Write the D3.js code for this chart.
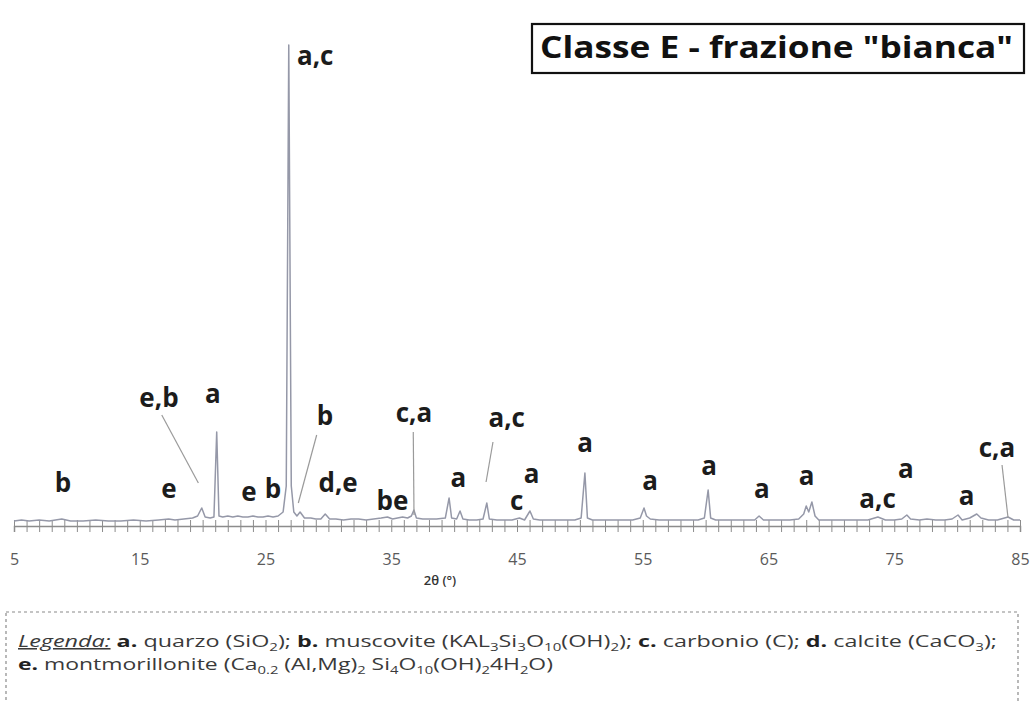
<!DOCTYPE html>
<html>
<head>
<meta charset="utf-8">
<script src="https://cdn.jsdelivr.net/npm/d3@7"></script>
<style>
  html, body { margin: 0; padding: 0; background: #ffffff; }
  svg { display: block; }
</style>
</head>
<body>
<svg id="chart" width="1032" height="702"></svg>
<script>
// ---- DATA ----
const twoTheta = [5.0,5.6,6.2,7.0,7.8,8.8,9.5,10.5,11.5,12.5,13.5,14.5,15.5,16.5,17.3,17.8,18.5,19.2,19.6,19.93,20.2,20.6,20.9,21.12,21.3,21.6,22.0,22.4,22.8,23.2,23.6,24.0,24.4,24.8,25.2,25.6,26.0,26.4,26.65,26.85,27.05,27.25,27.5,27.75,28.1,28.6,29.0,29.4,29.75,30.1,30.6,31.2,31.8,32.4,33.0,33.6,34.2,34.7,35.1,35.5,35.9,36.3,36.6,36.8,37.0,37.5,38.0,38.6,39.3,39.6,39.8,40.2,40.47,40.7,41.2,41.8,42.3,42.6,42.8,43.4,44.0,44.6,45.2,45.6,46.03,46.3,46.8,47.5,48.2,48.9,49.6,50.1,50.4,50.6,51.0,51.8,52.6,53.4,54.2,54.8,55.1,55.3,55.6,56.3,57.0,57.8,58.6,59.4,59.9,60.2,60.4,60.8,61.5,62.3,63.1,63.9,64.25,64.6,65.3,66.0,66.7,67.4,67.8,68.0,68.2,68.45,68.7,69.0,69.7,70.5,71.3,72.1,72.9,73.7,74.3,75.0,75.6,76.0,76.3,77.0,77.6,78.3,79.0,79.6,80.07,80.4,81.0,81.56,81.9,82.5,83.2,84.05,84.5,85.0];
const intensity = [5,6,5,6,5,7,5,5,6,5,5,6,5,6,7,6,7,8,10,18,9,8,9,94,10,9,10,9,10,9,9,10,9,9,10,9,10,14,40,481,40,14,10,14,8,8,7,7,12,7,7,6,7,7,6,7,8,9,7,8,9,8,10,16,8,7,7,7,8,28,8,7,15,7,6,6,7,23,7,6,6,6,8,6,15,7,6,6,6,6,6,8,53,8,6,6,6,6,6,8,18,10,7,6,6,6,6,6,8,36,8,6,6,6,6,6,10,6,6,6,6,7,12,20,14,24,10,6,6,6,6,6,6,9,6,6,7,11,7,6,7,6,6,7,11,6,8,12,8,6,6,9,6,6];

const majorTicks = [5,15,25,35,45,55,65,75,85];
const axisTitle = "2θ (°)";
const chartTitle = 'Classe E - frazione "bianca"';

// peak labels: text, 2θ position, intensity position
const labelText = ["a,c","e,b","a","b","c,a","a,c","a","b","e","e","b","d,e","be","a","c","a","a","a","a","a","a,c","a","a","c,a"];
const labelTheta = [27.5,16.53,20.81,29.73,36.81,44.18,50.41,8.9,17.33,23.69,25.6,30.77,35.1,40.33,44.98,46.17,55.58,60.27,64.48,68.04,73.67,75.93,80.76,83.17];
const labelInt = [461,119,123,101,104,99,74,34,28,25,28,34,16,39,16,43,36,51,28,41,18,48,21,69];

// leader lines from label to peak: [theta1, int1, theta2, int2]
const leaderFrom = [[16.75,111],[29.07,91],[36.75,94],[43.09,84],[83.57,61]];
const leaderTo   = [[19.66,43],[27.61,23],[36.81,11],[42.54,44],[84.05,8]];

// ---- DRAW ----
const svg = d3.select("#chart");
const x = d3.scaleLinear().domain([5, 85]).range([14, 1020]);
const y = d3.scaleLinear().domain([0, 500]).range([526, 26]);

// axis with crossing minor ticks every 1°
const minor = d3.range(5, 86, 1);
const gAx = svg.append("g").attr("transform", `translate(0,${y(0)})`)
  .call(d3.axisBottom(x).tickValues(minor).tickSize(6).tickFormat(""));
gAx.select(".domain").attr("stroke", "#8c8c8c").attr("stroke-width", 1.5);
gAx.selectAll(".tick line").attr("y1", -6).attr("y2", 6).attr("stroke", "#8c8c8c").attr("stroke-width", 1);

const gLab = svg.append("g").attr("transform", `translate(0,${y(0)})`)
  .call(d3.axisBottom(x).tickValues(majorTicks).tickSize(0).tickPadding(28).tickFormat(d3.format("d")));
gLab.select(".domain").remove();
gLab.selectAll("text").attr("font-family", "Open Sans, sans-serif").attr("font-size", 16)
  .attr("fill", "#5a5a5a");

svg.append("text").attr("x", 440).attr("y", 585).attr("text-anchor", "middle")
  .attr("font-family", "Open Sans, sans-serif").attr("font-size", 13).attr("font-weight", 600)
  .attr("fill", "#333").text(axisTitle);

// spectrum line
const pts = twoTheta.map((t, i) => [t, intensity[i]]);
const line = d3.line().x(d => x(d[0])).y(d => y(d[1]));
svg.append("path").datum(pts).attr("d", line).attr("fill", "none")
  .attr("stroke", "#9598a8").attr("stroke-width", 1.5).attr("stroke-linejoin", "round");

// leader lines
leaderFrom.forEach((f, i) => {
  const t = leaderTo[i];
  svg.append("line").attr("x1", x(f[0])).attr("y1", y(f[1]))
    .attr("x2", x(t[0])).attr("y2", y(t[1]))
    .attr("stroke", "#9a9a9a").attr("stroke-width", 1.2);
});

// peak labels
svg.append("g").selectAll("text").data(labelText).join("text")
  .attr("x", (d, i) => x(labelTheta[i])).attr("y", (d, i) => y(labelInt[i]))
  .attr("text-anchor", (d, i) => i === 0 ? "start" : "middle")
  .attr("font-family", "Open Sans, sans-serif").attr("font-weight", 700)
  .attr("font-size", 26).attr("fill", "#1c1c1c").text(d => d);

// title box
svg.append("rect").attr("x", 532).attr("y", 24).attr("width", 492).attr("height", 49)
  .attr("fill", "#fff").attr("stroke", "#111").attr("stroke-width", 2.2);
svg.append("text").attr("x", 540).attr("y", 58)
  .attr("font-family", "Open Sans, sans-serif").attr("font-weight", 700).attr("font-size", 30)
  .attr("textLength", 473).attr("lengthAdjust", "spacingAndGlyphs")
  .attr("fill", "#111").text(chartTitle);

// legend box
svg.append("rect").attr("x", 6).attr("y", 612).attr("width", 1012).attr("height", 100)
  .attr("fill", "none").attr("stroke", "#8a8a8a").attr("stroke-width", 1.2)
  .attr("stroke-dasharray", "3,3");

function richLine(parent, xPos, yPos, parts) {
  const t = parent.append("text").attr("x", xPos).attr("y", yPos)
    .attr("font-family", "Open Sans, sans-serif").attr("font-size", 15.5).attr("fill", "#3a3a3a");
  parts.forEach(p => {
    const s = t.append("tspan").text(p.t);
    if (p.b) s.attr("font-weight", 700).attr("fill", "#222");
    if (p.i) s.attr("font-style", "italic").attr("text-decoration", "underline");
    if (p.sub) s.attr("font-size", 10).attr("baseline-shift", "-4");
  });
  return t;
}
const leg = svg.append("g");
const l1 = richLine(leg, 18, 647, [
  {t: "Legenda:", i: true}, {t: " "}, {t: "a.", b: true}, {t: " quarzo (SiO"}, {t: "2", sub: true}, {t: "); "},
  {t: "b.", b: true}, {t: " muscovite (KAL"}, {t: "3", sub: true}, {t: "Si"}, {t: "3", sub: true}, {t: "O"}, {t: "10", sub: true},
  {t: "(OH)"}, {t: "2", sub: true}, {t: ");  "}, {t: "c.", b: true}, {t: " carbonio (C); "}, {t: "d.", b: true},
  {t: " calcite (CaCO"}, {t: "3", sub: true}, {t: ");"}
]);
l1.attr("textLength", 979).attr("lengthAdjust", "spacingAndGlyphs");
const l2 = richLine(leg, 18, 670, [
  {t: "e.", b: true}, {t: " montmorillonite  (Ca"}, {t: "0.2", sub: true}, {t: " (Al,Mg)"}, {t: "2", sub: true},
  {t: "  Si"}, {t: "4", sub: true}, {t: "O"}, {t: "10", sub: true}, {t: "(OH)"}, {t: "2", sub: true}, {t: "4H"}, {t: "2", sub: true}, {t: "O)"}
]);
l2.attr("textLength", 535).attr("lengthAdjust", "spacingAndGlyphs");
</script>
</body>
</html>
